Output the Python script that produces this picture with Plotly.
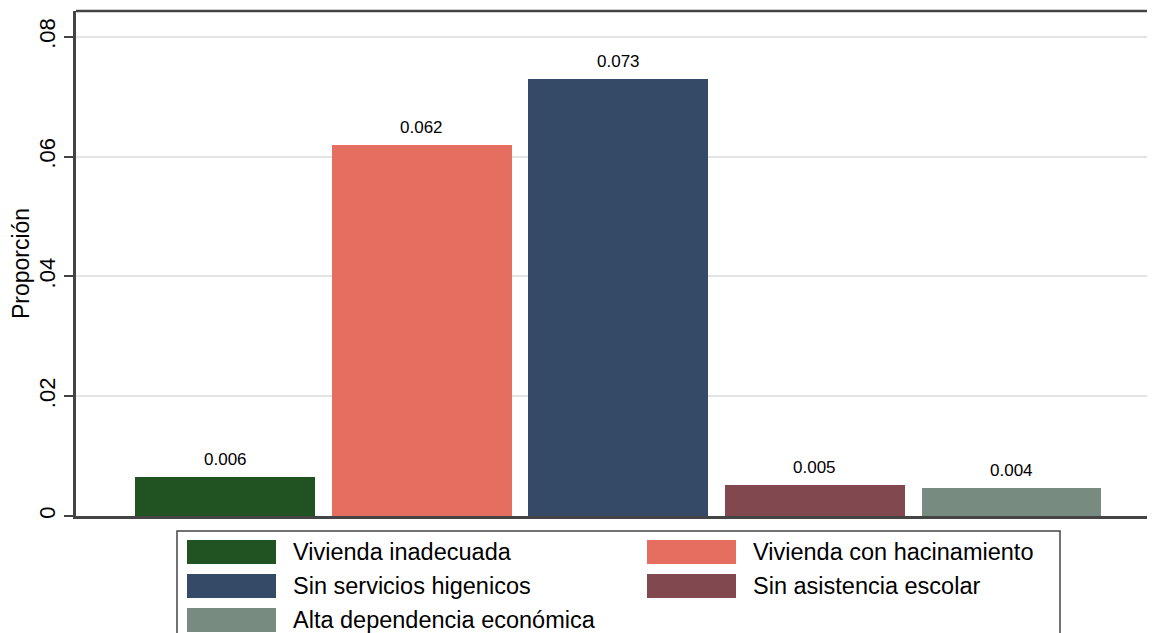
import plotly.graph_objects as go

categories = ["Vivienda inadecuada", "Vivienda con hacinamiento", "Sin servicios higenicos",
              "Sin asistencia escolar", "Alta dependencia económica"]
values = [0.0065, 0.0620, 0.0730, 0.0052, 0.0047]
labels = ["0.006", "0.062", "0.073", "0.005", "0.004"]
colors = ["#215221", "#e56e61", "#344a67", "#814850", "#778b80"]
ytick_vals = [0, 0.02, 0.04, 0.06, 0.08]
ytick_text = ["0", ".02", ".04", ".06", ".08"]

OFF = 8  # page body margin
W, H = 1155 - OFF, 633 - OFF
ML, MR, MT, MB = 76 - OFF, 0, 11 - OFF, 117
FONT = "Liberation Sans, Arial, Helvetica, sans-serif"

fig = go.Figure()
for i, (c, v, col) in enumerate(zip(categories, values, colors)):
    fig.add_trace(go.Bar(x=[i], y=[v], name=c, marker=dict(color=col, line=dict(width=0)),
                         width=0.915, showlegend=False))
    fig.add_annotation(x=i, y=v, text=labels[i], showarrow=False, yanchor="bottom",
                       yshift=6, font=dict(size=17, color="black", family=FONT))

# manual legend (page pixel coords -> paper)
pw = W - ML - MR
ph = H - MT - MB
def px2paper(x, y):
    return (x - OFF - ML) / pw, (H - MB - (y - OFF)) / ph

# top frame line, extended past the right edge
fig.add_shape(type="line", xref="paper", yref="paper", x0=0, x1=1.02, y0=1, y1=1,
              line=dict(color="#444444", width=2.5))

bx0, by0 = px2paper(177, 531)
bx1, by1 = px2paper(1060, 680)
fig.add_shape(type="rect", xref="paper", yref="paper", x0=bx0, x1=bx1, y0=by0, y1=by1,
              line=dict(color="#444444", width=1.5), fillcolor="white")
positions = [(187, 552), (647, 552), (187, 586), (647, 586), (187, 620)]
for (c, col), (sx, sy) in zip(zip(categories, colors), positions):
    x0, y0 = px2paper(sx, sy - 12)
    x1, y1 = px2paper(sx + 89, sy + 12)
    fig.add_shape(type="rect", xref="paper", yref="paper", x0=x0, x1=x1, y0=y0, y1=y1,
                  line=dict(width=0), fillcolor=col)
    tx, ty = px2paper(sx + 104, sy)
    fig.add_annotation(xref="paper", yref="paper", x=tx, y=ty, text=c, showarrow=False,
                       xanchor="left", yanchor="middle",
                       font=dict(size=23.5, color="black", family=FONT))

fig.update_layout(
    width=W, height=H,
    margin=dict(l=ML, r=MR, t=MT, b=MB, pad=0, autoexpand=False),
    plot_bgcolor="white", paper_bgcolor="white",
    font=dict(family=FONT, color="black"),
    bargap=0,
    xaxis=dict(range=[-0.758, 4.73], showticklabels=False, showgrid=False, zeroline=False,
               showline=True, linecolor="#444444", linewidth=2.5, ticks="", automargin=False),
    yaxis=dict(range=[0, 0.0843], tickvals=ytick_vals, ticktext=ytick_text, tickangle=-90,
               tickfont=dict(size=22, color="black"), ticks="outside", ticklen=9,
               tickwidth=1.5, tickcolor="#444444", automargin=False,
               showgrid=True, gridcolor="#e4e4e4", gridwidth=2, zeroline=False,
               showline=True, linecolor="#444444", linewidth=2.5,
               title=dict(text="Proporción", font=dict(size=23, color="black"), standoff=6)),
)

fig.write_html("out.html", config={"displayModeBar": False},
               post_script="document.documentElement.style.overflow='hidden';document.body.style.overflow='hidden';")
